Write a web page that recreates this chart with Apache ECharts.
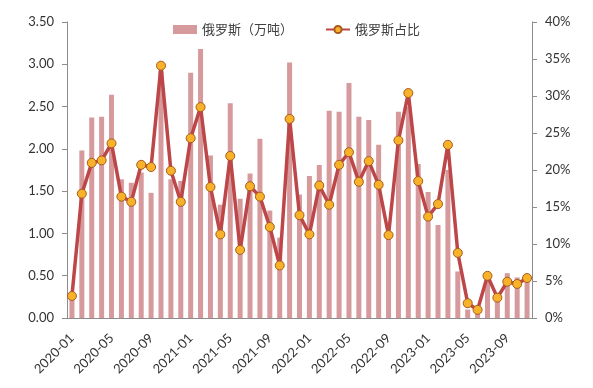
<!DOCTYPE html>
<html>
<head>
<meta charset="utf-8">
<script src="https://cdn.jsdelivr.net/npm/echarts@6/dist/echarts.min.js"></script>
<style>html,body{margin:0;padding:0;background:#fff;}#c{width:593px;height:388px;}</style>
</head>
<body>
<div id="c"></div>
<script>
const months = [
 '2020-01','2020-02','2020-03','2020-04','2020-05','2020-06','2020-07','2020-08','2020-09','2020-10','2020-11','2020-12',
 '2021-01','2021-02','2021-03','2021-04','2021-05','2021-06','2021-07','2021-08','2021-09','2021-10','2021-11','2021-12',
 '2022-01','2022-02','2022-03','2022-04','2022-05','2022-06','2022-07','2022-08','2022-09','2022-10','2022-11','2022-12',
 '2023-01','2023-02','2023-03','2023-04','2023-05','2023-06','2023-07','2023-08','2023-09','2023-10','2023-11'
];
const volume = [
 0.25,1.98,2.37,2.38,2.64,1.64,1.60,1.72,1.48,2.92,1.64,1.62,
 2.90,3.18,1.92,1.34,2.54,1.41,1.71,2.12,1.27,0.95,3.02,1.46,
 1.68,1.81,2.45,2.44,2.78,2.38,2.34,2.05,0.95,2.44,2.50,1.82,
 1.49,1.10,1.75,0.55,0.10,0.07,0.47,0.29,0.53,0.48,0.47
];
const share = [
 2.98,16.8,20.96,21.3,23.6,16.4,15.7,20.7,20.4,34.1,19.9,15.7,
 24.3,28.5,17.7,11.3,21.9,9.2,17.8,16.4,12.3,7.1,26.9,13.9,
 11.3,17.9,15.3,20.7,22.4,18.4,21.2,18.0,11.2,24.0,30.4,18.5,
 13.7,15.4,23.4,8.8,2.0,1.1,5.7,2.75,4.9,4.6,5.4
];
const seriesNames = ['俄罗斯（万吨）','俄罗斯占比'];
const FONT = 'Lato, "Noto Sans CJK SC", sans-serif';
const chart = echarts.init(document.getElementById('c'));
chart.setOption({
  animation:false,
  backgroundColor:'#fff',
  textStyle:{fontFamily:FONT},
  legend:{
    top:18, left:'center',
    itemGap:32, itemWidth:24, itemHeight:9,
    textStyle:{fontSize:13,color:'#404040',fontFamily:'"Noto Sans CJK SC", sans-serif'},
    data:[{name:seriesNames[0],icon:'rect'},{name:seriesNames[1]}]
  },
  grid:{left:67,right:61,top:22,bottom:70},
  xAxis:{
    type:'category', data:months, boundaryGap:true,
    axisLine:{lineStyle:{color:'#8c8c8c',width:1}},
    axisTick:{interval:3,length:5,lineStyle:{color:'#8c8c8c'}},
    axisLabel:{interval:3,rotate:45,fontSize:13,color:'#333',margin:18,fontFamily:FONT}
  },
  yAxis:[{
    type:'value',min:0,max:3.5,interval:0.5,
    axisLine:{show:true,lineStyle:{color:'#8c8c8c'}},
    axisTick:{show:true,length:5,lineStyle:{color:'#8c8c8c'}},
    splitLine:{show:false},
    axisLabel:{formatter:v=>v.toFixed(2),fontSize:13,color:'#333',margin:13,fontFamily:FONT}
  },{
    type:'value',min:0,max:40,interval:5,
    axisLine:{show:true,lineStyle:{color:'#8c8c8c'}},
    axisTick:{show:true,length:5,lineStyle:{color:'#8c8c8c'}},
    splitLine:{show:false},
    axisLabel:{formatter:v=>v+'%',fontSize:13,color:'#333',margin:13,fontFamily:FONT}
  }],
  series:[{
    name:seriesNames[0],type:'bar',data:volume,yAxisIndex:0,
    barWidth:5,
    itemStyle:{color:'#d69a9d'}
  },{
    name:seriesNames[1],type:'line',data:share,yAxisIndex:1,
    symbol:'circle',symbolSize:9,showAllSymbol:true,showSymbol:true,
    lineStyle:{color:'#bd4648',width:3.5},
    itemStyle:{color:'#f7b22a',borderColor:'#a85a1e',borderWidth:1}
  }]
});
</script>
</body>
</html>
